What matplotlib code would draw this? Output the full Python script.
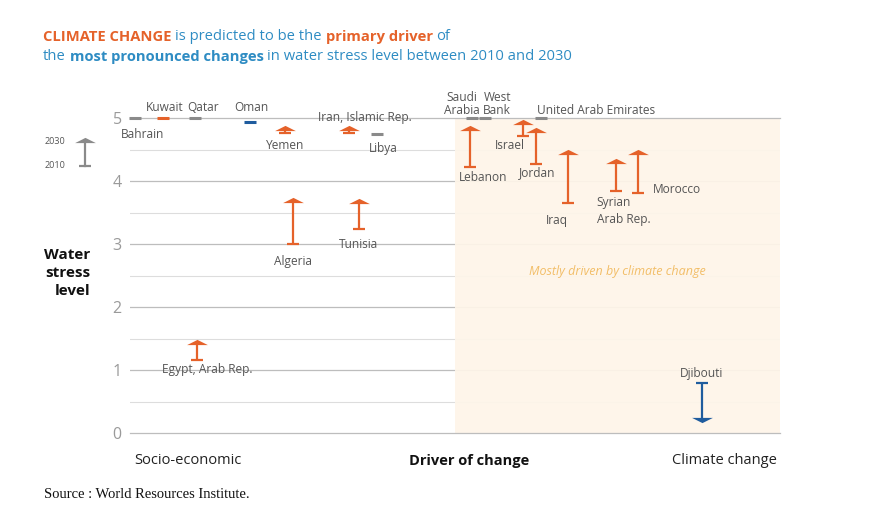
import matplotlib
matplotlib.use("Agg")
import matplotlib.pyplot as plt
from matplotlib.path import Path

plt.rcParams['font.family'] = ['Open Sans', 'DejaVu Sans']

# ---------------- data ----------------
countries = ["Bahrain", "Kuwait", "Qatar", "Oman", "Yemen", "Iran, Islamic Rep.", "Libya",
             "Saudi\nArabia", "West\nBank", "Lebanon", "Israel", "Jordan", "United Arab Emirates",
             "Iraq", "Syrian\nArab Rep.", "Morocco", "Algeria", "Tunisia", "Egypt, Arab Rep.", "Djibouti"]
# position on the "driver of change" scale (0 = socio-economic, 100 = climate change)
driver = [0.7, 5.1, 10.0, 18.5, 23.8, 33.7, 38.0,
          52.6, 54.6, 52.3, 60.5, 62.5, 63.2,
          67.4, 74.8, 78.2, 25.1, 35.2, 10.3, 88.0]
stress_2010 = [5.00, 5.00, 5.00, 4.93, 4.76, 4.76, 4.75,
               5.00, 5.00, 4.22, 4.71, 4.27, 5.00,
               3.65, 3.84, 3.81, 3.00, 3.24, 1.16, 0.79]
stress_2030 = [5.00, 5.00, 5.00, 4.93, 4.84, 4.84, 4.75,
               5.00, 5.00, 4.84, 4.94, 4.81, 5.00,
               4.46, 4.32, 4.46, 3.70, 3.68, 1.44, 0.21]
# colour of the mark: 'up' (orange), 'down' (blue), 'same' (grey)
kind = ["same", "up", "same", "down", "up", "up", "same",
        "same", "same", "up", "up", "up", "same",
        "up", "up", "up", "up", "up", "up", "down"]
y_ticks = [0, 1, 2, 3, 4, 5]

# label positions (driver, stress) and alignment
label_pos = [(2.0, 4.74), (5.3, 5.17), (11.2, 5.17), (18.6, 5.17), (23.8, 4.56), (36.2, 5.0), (38.9, 4.52),
             (51.0, 5.22), (56.5, 5.22), (54.3, 4.05), (58.5, 4.56), (62.6, 4.13), (62.6, 5.12),
             (65.7, 3.37), (71.8, 3.52), (80.5, 3.86), (25.1, 2.72), (35.2, 2.99), (11.9, 1.0), (88.0, 0.94)]
label_ha = ["center"] * 12 + ["left", "center", "left", "left", "center", "center", "center", "center"]
label_ls = [0.95] * 14 + [1.35] + [0.95] * 5

ORANGE = "#E5622A"
BLUE = "#1F5C9E"
GREY = "#8A8A8A"
TITLE_BLUE = "#2E8CC3"
TXT = "#555555"

W, H = 883, 513
fig = plt.figure(figsize=(W / 100, H / 100), dpi=100)
x0, x1, yb, yt = 130, 780, 433, 118
ax = fig.add_axes([x0 / W, 1 - yb / H, (x1 - x0) / W, (yb - yt) / H])
ax.set_xlim(0, 100)
ax.set_ylim(0, 5)
for s in ax.spines.values():
    s.set_visible(False)
ax.set_xticks([])
ax.set_yticks(y_ticks)
ax.set_yticklabels([str(t) for t in y_ticks], fontsize=11.5, color="#9A9A9A")
ax.tick_params(axis='y', length=0, pad=6)

# grid
for v in range(1, 5):
    ax.axhline(v, color="#BDBDBD", lw=0.9, zorder=1)
for v in [0, 5]:
    ax.axhline(v, color="#BDBDBD", lw=0.9, zorder=3, clip_on=False)
for v in [0.5, 1.5, 2.5, 3.5, 4.5]:
    ax.axhline(v, color="#DDDDDD", lw=0.8, zorder=1)
# shaded climate region
ax.axvspan(50, 100, color="#FEF5E9", alpha=0.93, lw=0, zorder=2)
ax.text(75, 2.57, "Mostly driven by climate change", style="italic", color="#F2BE68",
        fontsize=9, ha="center", va="center", zorder=3)

# custom arrow-head markers
up_head = Path([(-1, -0.25), (1, -0.25), (0, 0.25), (-1, -0.25)],
               [Path.MOVETO, Path.LINETO, Path.LINETO, Path.CLOSEPOLY])
down_head = Path([(-1, 0.25), (1, 0.25), (0, -0.25), (-1, 0.25)],
                 [Path.MOVETO, Path.LINETO, Path.LINETO, Path.CLOSEPOLY])
colours = {"up": ORANGE, "down": BLUE, "same": GREY}

for i, c in enumerate(countries):
    x, a, b, k = driver[i], stress_2010[i], stress_2030[i], kind[i]
    col = colours[k]
    if a == b:
        ax.plot([x], [a], marker="_", ms=8.5, mew=2.2, color=col, zorder=5, clip_on=False)
    else:
        ax.plot([x, x], [a, b], color=col, lw=1.6, zorder=4, solid_capstyle="butt")
        ax.plot([x], [a], marker="_", ms=8, mew=1.6, color=col, zorder=4)
        ax.plot([x], [b], marker=up_head if b > a else down_head, ms=15, color=col,
                mew=0, zorder=5, clip_on=False)
    lx, ly = label_pos[i]
    ax.text(lx, ly, c, fontsize=8.6, color=TXT, ha=label_ha[i], va="center",
            linespacing=label_ls[i], zorder=6, clip_on=False)

# overlay axes in pixel coordinates for the surrounding text
lax = fig.add_axes([0, 0, 1, 1], facecolor="none")
lax.set_xlim(0, W)
lax.set_ylim(H, 0)
lax.axis("off")

# legend arrow
lax.plot([85, 85], [166, 140], color=GREY, lw=1.6)
lax.plot([85], [166], marker="_", ms=8, mew=1.6, color=GREY)
lax.plot([85], [140], marker=up_head, ms=15, color=GREY, mew=0)
lax.text(55, 141, "2030", fontsize=6.5, color=TXT, ha="center", va="center")
lax.text(55, 166, "2010", fontsize=6.5, color=TXT, ha="center", va="center")

# y axis label
lax.text(90, 273, "Water\nstress\nlevel", fontsize=11, fontweight="bold", color="#111111",
         ha="right", va="center", multialignment="right", linespacing=1.38)

# x labels
lax.text(188, 461, "Socio-economic", fontsize=10.5, color="#222222", ha="center", va="center")
lax.text(469, 461, "Driver of change", fontsize=10.5, color="#111111", fontweight="bold",
         ha="center", va="center")
lax.text(724, 461, "Climate change", fontsize=10.5, color="#222222", ha="center", va="center")

# source
lax.text(44, 494, "Source : World Resources Institute.", fontsize=10.5, family="Liberation Serif",
         color="#111111", ha="left", va="center")

# multi-coloured title
renderer = fig.canvas.get_renderer()
inv = lax.transData.inverted()
TSIZE = 10.6

space_t = lax.text(0, 0, "a a", fontsize=TSIZE)
nospace_t = lax.text(0, 0, "aa", fontsize=TSIZE)
sw = (space_t.get_window_extent(renderer).width - nospace_t.get_window_extent(renderer).width)
space_t.remove()
nospace_t.remove()


def draw_words(parts, x, y, size):
    for txt, col, wt in parts:
        t = lax.text(x, y, txt, fontsize=size, color=col, fontweight=wt, ha="left", va="center")
        bb = t.get_window_extent(renderer=renderer)
        x = inv.transform((bb.x1, bb.y0))[0] + sw
    return x

draw_words([("CLIMATE CHANGE", ORANGE, "bold"), ("is predicted to be the", TITLE_BLUE, "normal"),
            ("primary driver", ORANGE, "bold"), ("of", TITLE_BLUE, "normal")], 43, 37, TSIZE)
draw_words([("the", TITLE_BLUE, "normal"), ("most pronounced changes", TITLE_BLUE, "bold"),
            ("in water stress level between 2010 and 2030", TITLE_BLUE, "normal")], 43, 57, TSIZE)

fig.savefig("out.png", dpi=100)
